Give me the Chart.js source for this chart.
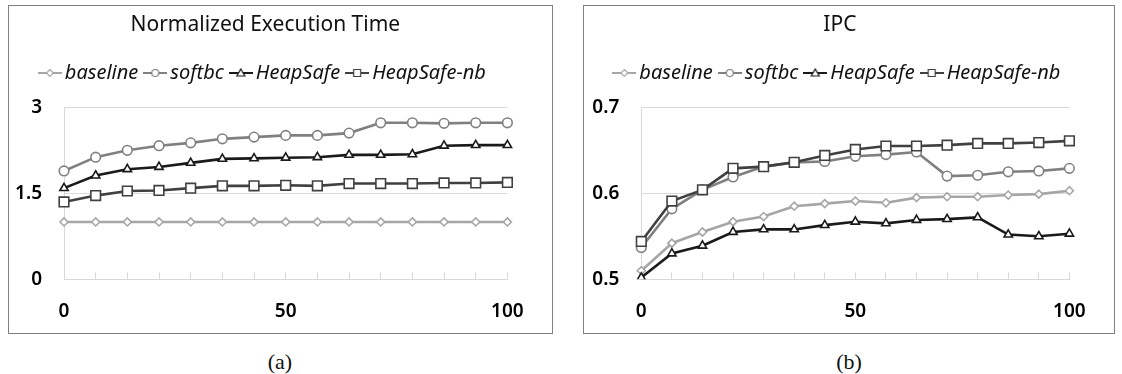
<!DOCTYPE html>
<html>
<head>
<meta charset="utf-8">
<title>Normalized Execution Time and IPC</title>
<script src="https://cdn.jsdelivr.net/npm/chart.js@4.4.0/dist/chart.umd.min.js"></script>
<style>
    body { margin: 0; background: #fff; width: 1122px; height: 374px; position: relative; overflow: hidden; }
    .panel { position: absolute; top: 5px; height: 327px; border: 1px solid #808080; background: #fff; }
    #panelA { left: 8px; width: 543px; }
    #panelB { left: 583px; width: 530px; }
    .caption { position: absolute; top: 349px; width: 120px; text-align: center; font-family: "Liberation Serif", serif; font-size: 22px; color: #111; }
</style>
</head>
<body>
<div class="panel" id="panelA"><canvas id="chartA"></canvas></div>
<div class="panel" id="panelB"><canvas id="chartB"></canvas></div>
<div class="caption" style="left: 220px;">(a)</div>
<div class="caption" style="left: 789px;">(b)</div>

<script>
// x categories (only 0, 50, 100 are labelled)
const xLabels = ['0', '', '', '', '', '', '', '50', '', '', '', '', '', '', '100'];
const seriesNames = ['baseline', 'softbc', 'HeapSafe', 'HeapSafe-nb'];

// (a) Normalized execution time
const timeTicks = [0, 1.5, 3];
const timeBaseline = [1, 1, 1, 1, 1, 1, 1, 1, 1, 1, 1, 1, 1, 1, 1];
const timeSoftbc = [1.89, 2.13, 2.25, 2.33, 2.38, 2.45, 2.48, 2.51, 2.51, 2.55, 2.73, 2.73, 2.72, 2.73, 2.73];
const timeHeapSafe = [1.59, 1.81, 1.92, 1.96, 2.03, 2.10, 2.11, 2.12, 2.13, 2.17, 2.17, 2.18, 2.33, 2.34, 2.34];
const timeHeapSafeNb = [1.35, 1.46, 1.54, 1.55, 1.59, 1.63, 1.63, 1.64, 1.63, 1.67, 1.67, 1.67, 1.68, 1.68, 1.69];

// (b) IPC
const ipcTicks = [0.5, 0.6, 0.7];
const ipcBaseline = [0.510, 0.542, 0.555, 0.567, 0.573, 0.585, 0.588, 0.591, 0.589, 0.595, 0.596, 0.596, 0.598, 0.599, 0.603];
const ipcSoftbc = [0.537, 0.582, 0.604, 0.619, 0.631, 0.636, 0.637, 0.643, 0.645, 0.648, 0.620, 0.621, 0.625, 0.626, 0.629];
const ipcHeapSafe = [0.502, 0.530, 0.539, 0.555, 0.558, 0.558, 0.563, 0.567, 0.565, 0.569, 0.570, 0.572, 0.552, 0.550, 0.553];
const ipcHeapSafeNb = [0.544, 0.591, 0.604, 0.629, 0.631, 0.636, 0.644, 0.651, 0.655, 0.655, 0.656, 0.658, 0.658, 0.659, 0.661];

const FONT = '"Noto Sans", "DejaVu Sans", sans-serif';
const GRID = '#d9d9d9';

// Line + marker look per series
const seriesStyles = [
    { color: '#a6a6a6', pointStyle: 'rectRot', radius: 4 },
    { color: '#808080', pointStyle: 'circle', radius: 4.8 },
    { color: '#1a1a1a', pointStyle: 'triangle', radius: 4.8 },
    { color: '#404040', pointStyle: 'rect', radius: 6.8 }
];

// Small "line with marker in the middle" picture used as legend symbol
function makeLegendSymbol(style) {
    const c = document.createElement('canvas');
    c.width = 24;
    c.height = 14;
    const ctx = c.getContext('2d');
    ctx.strokeStyle = style.color;
    ctx.lineWidth = 2;
    ctx.beginPath();
    ctx.moveTo(0, 7);
    ctx.lineTo(24, 7);
    ctx.stroke();

    ctx.fillStyle = '#fff';
    ctx.lineWidth = 1.2;
    ctx.beginPath();
    if (style.pointStyle === 'circle') {
        ctx.arc(12, 7, 3.5, 0, Math.PI * 2);
    } else if (style.pointStyle === 'rect') {
        ctx.rect(8.5, 3.5, 7, 7);
    } else if (style.pointStyle === 'triangle') {
        ctx.moveTo(12, 3);
        ctx.lineTo(16, 10);
        ctx.lineTo(8, 10);
        ctx.closePath();
    } else {
        ctx.moveTo(12, 3.5);
        ctx.lineTo(15.5, 7);
        ctx.lineTo(12, 10.5);
        ctx.lineTo(8.5, 7);
        ctx.closePath();
    }
    ctx.fill();
    ctx.stroke();
    return c;
}

const legendSymbols = seriesStyles.map(makeLegendSymbol);

// Adds some room between the legend and the plot
const legendMargin = {
    id: 'legendMargin',
    beforeInit(chart, args, opts) {
        const fit = chart.legend.fit;
        chart.legend.fit = function() {
            fit.bind(chart.legend)();
            this.height += opts.extra || 0;
        };
    }
};

function createPanel(canvasId, title, values, ticks, layout) {
    const datasets = values.map((data, i) => ({
        label: seriesNames[i],
        data: data,
        borderColor: seriesStyles[i].color,
        backgroundColor: '#ffffff',
        borderWidth: 2.6,
        pointStyle: seriesStyles[i].pointStyle,
        pointRadius: seriesStyles[i].radius,
        pointBorderWidth: 1.6,
        pointBorderColor: seriesStyles[i].color,
        pointBackgroundColor: '#ffffff',
        order: values.length - 1 - i,
        tension: 0
    }));

    return new Chart(document.getElementById(canvasId), {
        type: 'line',
        data: { labels: xLabels, datasets: datasets },
        plugins: [legendMargin],
        options: {
            responsive: true,
            maintainAspectRatio: false,
            animation: false,
            layout: { padding: { left: 0, right: layout.right, top: 0, bottom: 0 } },
            plugins: {
                title: {
                    display: true,
                    text: title,
                    color: '#111',
                    font: { family: FONT, size: 21, weight: 'normal' },
                    padding: { top: 6, bottom: 13.8 }
                },
                legend: {
                    position: 'top',
                    labels: {
                        usePointStyle: true,
                        pointStyleWidth: 10,
                        padding: 12,
                        color: '#111',
                        font: { family: FONT, size: 20, style: 'italic' },
                        sort: (a, b) => a.datasetIndex - b.datasetIndex,
                        generateLabels: function(chart) {
                            const items = Chart.defaults.plugins.legend.labels.generateLabels(chart);
                            items.forEach(item => {
                                item.pointStyle = legendSymbols[item.datasetIndex];
                            });
                            return items;
                        }
                    }
                },
                legendMargin: { extra: 14.3 },
                tooltip: { enabled: false }
            },
            scales: {
                x: {
                    type: 'category',
                    offset: false,
                    grid: {
                        display: true,
                        drawOnChartArea: false,
                        drawTicks: true,
                        tickLength: -7,
                        tickColor: GRID
                    },
                    border: { display: true, color: GRID, width: 1 },
                    ticks: {
                        autoSkip: false,
                        maxRotation: 0,
                        padding: 28.3,
                        color: '#000',
                        font: { family: FONT, size: 19, weight: '600' }
                    },
                    afterFit: (scale) => { scale.height = 53.7; }
                },
                y: {
                    min: ticks[0],
                    max: ticks[ticks.length - 1],
                    afterBuildTicks: (scale) => {
                        scale.ticks = ticks.map(v => ({ value: v }));
                    },
                    grid: { color: GRID, drawTicks: false },
                    border: { display: true, color: GRID, width: 1 },
                    ticks: {
                        padding: 22,
                        color: '#000',
                        font: { family: FONT, size: 19, weight: '600' }
                    },
                    afterFit: (scale) => { scale.width = layout.left; }
                }
            }
        }
    });
}

createPanel('chartA', 'Normalized Execution Time',
    [timeBaseline, timeSoftbc, timeHeapSafe, timeHeapSafeNb], timeTicks, { left: 55, right: 30.3 });
createPanel('chartB', 'IPC',
    [ipcBaseline, ipcSoftbc, ipcHeapSafe, ipcHeapSafeNb], ipcTicks, { left: 57.3, right: 18.3 });
</script>
</body>
</html>
